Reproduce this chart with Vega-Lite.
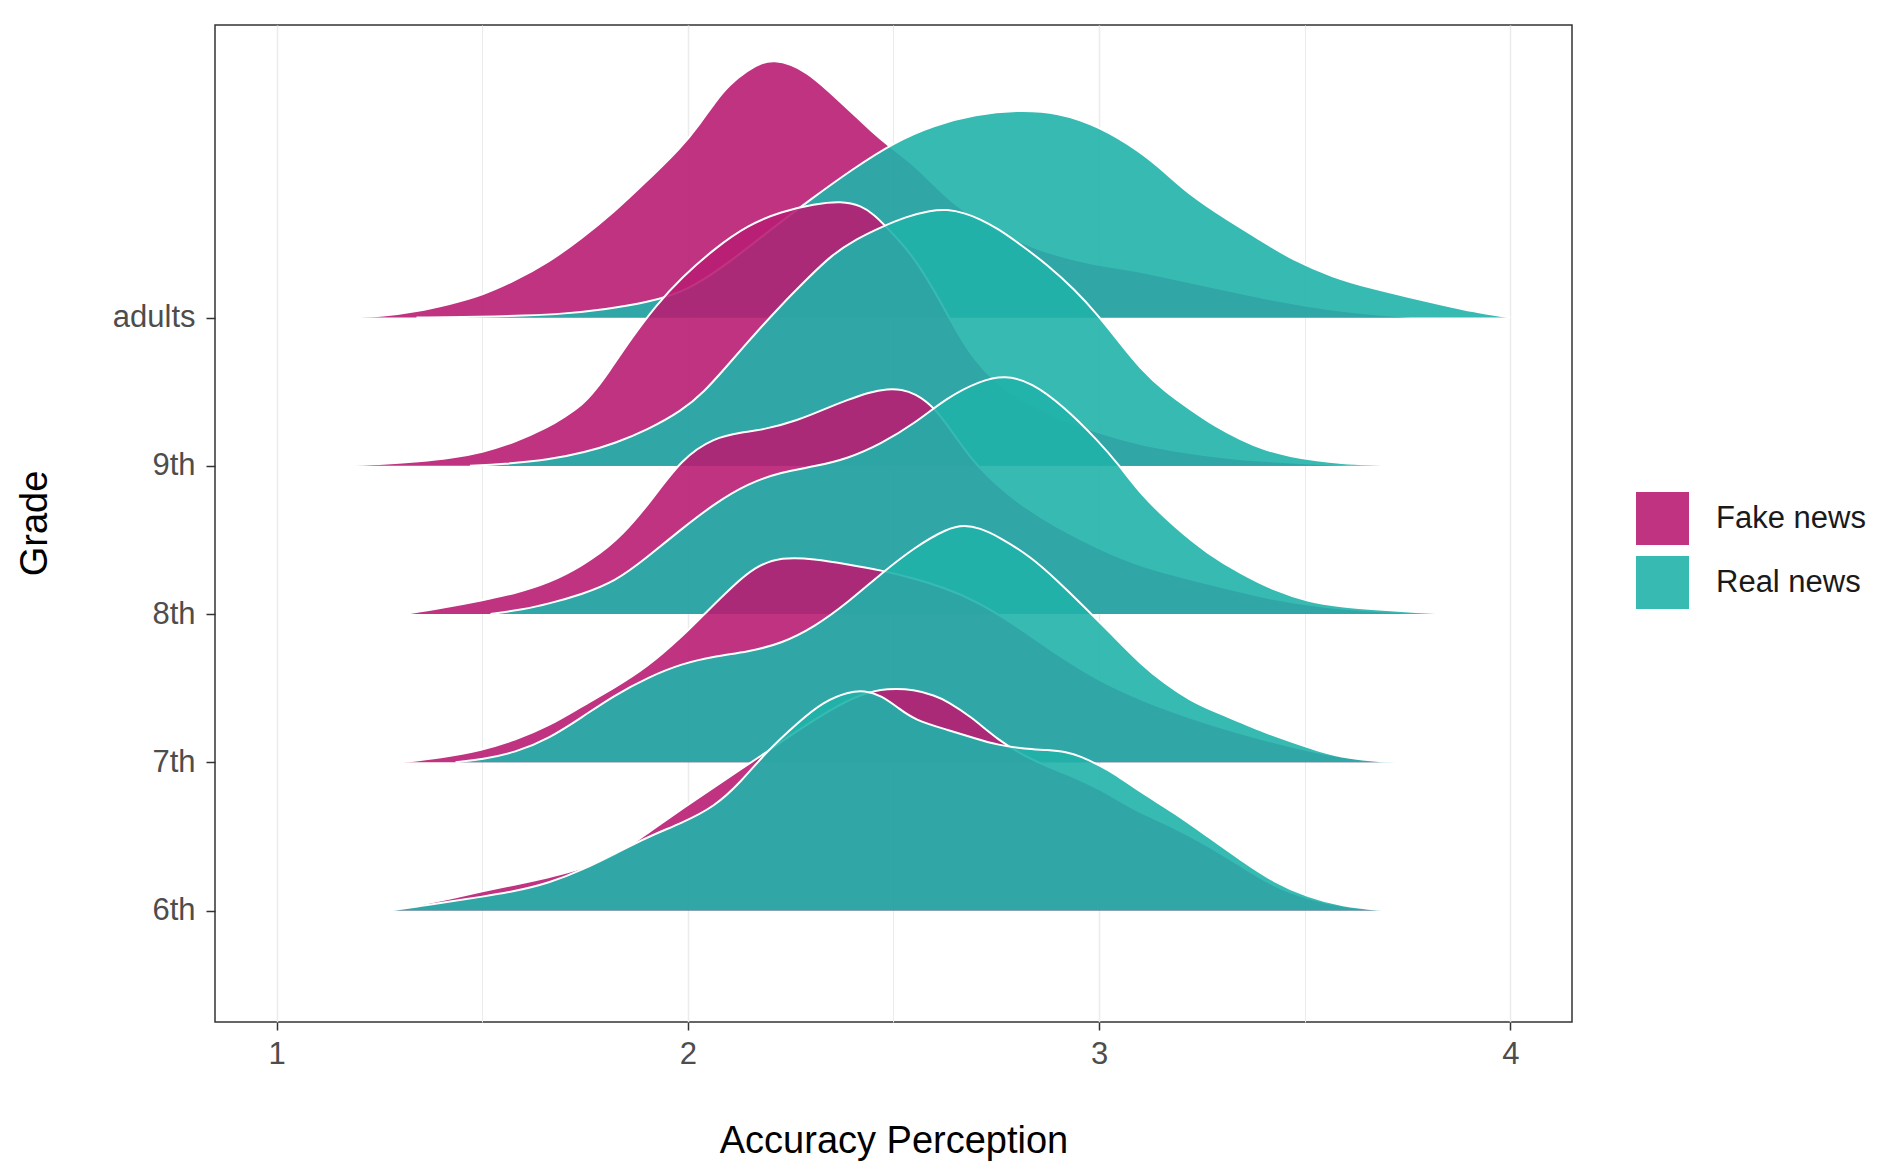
{
  "$schema": "https://vega.github.io/schema/vega-lite/v6.json",
  "width": 1357,
  "height": 997,
  "autosize": {"type": "none"},
  "padding": {"left": 215, "top": 25, "right": 311, "bottom": 145},
  "background": "white",
  "config": {
    "font": "Liberation Sans",
    "view": {"stroke": "#333333", "strokeWidth": 1.5},
    "axis": {"domain": false, "tickColor": "#333333", "tickWidth": 1.5, "labelColor": "#4D4D4D", "labelFontSize": 31, "titleFontSize": 38, "titleFontWeight": "normal", "titleColor": "#000000", "labelFont": "Liberation Sans", "titleFont": "Liberation Sans"}
  },
  "datasets": {
    "adults_fake": [
      {"grade":"adults","type":"Fake news","x":1.18,"ridge":5},{"grade":"adults","type":"Fake news","x":1.26,"ridge":5.01},{"grade":"adults","type":"Fake news","x":1.34,"ridge":5.04},{"grade":"adults","type":"Fake news","x":1.42,"ridge":5.09},{"grade":"adults","type":"Fake news","x":1.5,"ridge":5.15},{"grade":"adults","type":"Fake news","x":1.58,"ridge":5.25},{"grade":"adults","type":"Fake news","x":1.66,"ridge":5.37},{"grade":"adults","type":"Fake news","x":1.74,"ridge":5.53},{"grade":"adults","type":"Fake news","x":1.82,"ridge":5.71},{"grade":"adults","type":"Fake news","x":1.9,"ridge":5.92},{"grade":"adults","type":"Fake news","x":1.985,"ridge":6.15},{"grade":"adults","type":"Fake news","x":2.03,"ridge":6.31},{"grade":"adults","type":"Fake news","x":2.065,"ridge":6.45},{"grade":"adults","type":"Fake news","x":2.1,"ridge":6.57},{"grade":"adults","type":"Fake news","x":2.146,"ridge":6.67},{"grade":"adults","type":"Fake news","x":2.18,"ridge":6.72},{"grade":"adults","type":"Fake news","x":2.21,"ridge":6.735},{"grade":"adults","type":"Fake news","x":2.25,"ridge":6.71},{"grade":"adults","type":"Fake news","x":2.29,"ridge":6.65},{"grade":"adults","type":"Fake news","x":2.325,"ridge":6.57},{"grade":"adults","type":"Fake news","x":2.365,"ridge":6.47},{"grade":"adults","type":"Fake news","x":2.405,"ridge":6.366},{"grade":"adults","type":"Fake news","x":2.445,"ridge":6.26},{"grade":"adults","type":"Fake news","x":2.487,"ridge":6.16},{"grade":"adults","type":"Fake news","x":2.55,"ridge":6.03},{"grade":"adults","type":"Fake news","x":2.6,"ridge":5.89},{"grade":"adults","type":"Fake news","x":2.65,"ridge":5.76},{"grade":"adults","type":"Fake news","x":2.7,"ridge":5.66},{"grade":"adults","type":"Fake news","x":2.8,"ridge":5.52},{"grade":"adults","type":"Fake news","x":2.86,"ridge":5.45},{"grade":"adults","type":"Fake news","x":2.95,"ridge":5.38},{"grade":"adults","type":"Fake news","x":3.03,"ridge":5.34},{"grade":"adults","type":"Fake news","x":3.1,"ridge":5.31},{"grade":"adults","type":"Fake news","x":3.2,"ridge":5.25},{"grade":"adults","type":"Fake news","x":3.3,"ridge":5.19},{"grade":"adults","type":"Fake news","x":3.4,"ridge":5.13},{"grade":"adults","type":"Fake news","x":3.5,"ridge":5.08},{"grade":"adults","type":"Fake news","x":3.6,"ridge":5.04},{"grade":"adults","type":"Fake news","x":3.7,"ridge":5.015},{"grade":"adults","type":"Fake news","x":3.78,"ridge":5}
    ],
    "adults_real": [
      {"grade":"adults","type":"Real news","x":1.34,"ridge":5},{"grade":"adults","type":"Real news","x":1.5,"ridge":5.005},{"grade":"adults","type":"Real news","x":1.6,"ridge":5.012},{"grade":"adults","type":"Real news","x":1.7,"ridge":5.025},{"grade":"adults","type":"Real news","x":1.8,"ridge":5.055},{"grade":"adults","type":"Real news","x":1.9,"ridge":5.1},{"grade":"adults","type":"Real news","x":2.0,"ridge":5.18},{"grade":"adults","type":"Real news","x":2.1,"ridge":5.37},{"grade":"adults","type":"Real news","x":2.2,"ridge":5.59},{"grade":"adults","type":"Real news","x":2.3,"ridge":5.8},{"grade":"adults","type":"Real news","x":2.4,"ridge":6.0},{"grade":"adults","type":"Real news","x":2.5,"ridge":6.18},{"grade":"adults","type":"Real news","x":2.6,"ridge":6.3},{"grade":"adults","type":"Real news","x":2.7,"ridge":6.37},{"grade":"adults","type":"Real news","x":2.8,"ridge":6.4},{"grade":"adults","type":"Real news","x":2.9,"ridge":6.385},{"grade":"adults","type":"Real news","x":3.0,"ridge":6.29},{"grade":"adults","type":"Real news","x":3.1,"ridge":6.12},{"grade":"adults","type":"Real news","x":3.16,"ridge":5.98},{"grade":"adults","type":"Real news","x":3.22,"ridge":5.83},{"grade":"adults","type":"Real news","x":3.3,"ridge":5.68},{"grade":"adults","type":"Real news","x":3.4,"ridge":5.51},{"grade":"adults","type":"Real news","x":3.47,"ridge":5.39},{"grade":"adults","type":"Real news","x":3.57,"ridge":5.27},{"grade":"adults","type":"Real news","x":3.66,"ridge":5.2},{"grade":"adults","type":"Real news","x":3.75,"ridge":5.14},{"grade":"adults","type":"Real news","x":3.83,"ridge":5.09},{"grade":"adults","type":"Real news","x":3.91,"ridge":5.04},{"grade":"adults","type":"Real news","x":4.0,"ridge":5}
    ],
    "g9_fake": [
      {"grade":"9th","type":"Fake news","x":1.15,"ridge":4},{"grade":"9th","type":"Fake news","x":1.25,"ridge":4.01},{"grade":"9th","type":"Fake news","x":1.35,"ridge":4.03},{"grade":"9th","type":"Fake news","x":1.42,"ridge":4.05},{"grade":"9th","type":"Fake news","x":1.5,"ridge":4.09},{"grade":"9th","type":"Fake news","x":1.58,"ridge":4.16},{"grade":"9th","type":"Fake news","x":1.66,"ridge":4.26},{"grade":"9th","type":"Fake news","x":1.7,"ridge":4.33},{"grade":"9th","type":"Fake news","x":1.743,"ridge":4.41},{"grade":"9th","type":"Fake news","x":1.775,"ridge":4.51},{"grade":"9th","type":"Fake news","x":1.807,"ridge":4.63},{"grade":"9th","type":"Fake news","x":1.86,"ridge":4.85},{"grade":"9th","type":"Fake news","x":1.922,"ridge":5.08},{"grade":"9th","type":"Fake news","x":1.985,"ridge":5.27},{"grade":"9th","type":"Fake news","x":2.065,"ridge":5.466},{"grade":"9th","type":"Fake news","x":2.146,"ridge":5.624},{"grade":"9th","type":"Fake news","x":2.227,"ridge":5.715},{"grade":"9th","type":"Fake news","x":2.308,"ridge":5.765},{"grade":"9th","type":"Fake news","x":2.373,"ridge":5.785},{"grade":"9th","type":"Fake news","x":2.422,"ridge":5.755},{"grade":"9th","type":"Fake news","x":2.454,"ridge":5.69},{"grade":"9th","type":"Fake news","x":2.478,"ridge":5.624},{"grade":"9th","type":"Fake news","x":2.52,"ridge":5.5},{"grade":"9th","type":"Fake news","x":2.55,"ridge":5.4},{"grade":"9th","type":"Fake news","x":2.6,"ridge":5.18},{"grade":"9th","type":"Fake news","x":2.65,"ridge":4.92},{"grade":"9th","type":"Fake news","x":2.7,"ridge":4.7},{"grade":"9th","type":"Fake news","x":2.75,"ridge":4.56},{"grade":"9th","type":"Fake news","x":2.8,"ridge":4.46},{"grade":"9th","type":"Fake news","x":2.9,"ridge":4.32},{"grade":"9th","type":"Fake news","x":3.0,"ridge":4.22},{"grade":"9th","type":"Fake news","x":3.1,"ridge":4.14},{"grade":"9th","type":"Fake news","x":3.25,"ridge":4.07},{"grade":"9th","type":"Fake news","x":3.4,"ridge":4.03},{"grade":"9th","type":"Fake news","x":3.55,"ridge":4.01},{"grade":"9th","type":"Fake news","x":3.67,"ridge":4}
    ],
    "g9_real": [
      {"grade":"9th","type":"Real news","x":1.47,"ridge":4},{"grade":"9th","type":"Real news","x":1.55,"ridge":4.01},{"grade":"9th","type":"Real news","x":1.662,"ridge":4.04},{"grade":"9th","type":"Real news","x":1.75,"ridge":4.09},{"grade":"9th","type":"Real news","x":1.824,"ridge":4.153},{"grade":"9th","type":"Real news","x":1.9,"ridge":4.24},{"grade":"9th","type":"Real news","x":1.985,"ridge":4.37},{"grade":"9th","type":"Real news","x":2.04,"ridge":4.5},{"grade":"9th","type":"Real news","x":2.09,"ridge":4.657},{"grade":"9th","type":"Real news","x":2.16,"ridge":4.88},{"grade":"9th","type":"Real news","x":2.227,"ridge":5.084},{"grade":"9th","type":"Real news","x":2.29,"ridge":5.26},{"grade":"9th","type":"Real news","x":2.349,"ridge":5.421},{"grade":"9th","type":"Real news","x":2.41,"ridge":5.53},{"grade":"9th","type":"Real news","x":2.47,"ridge":5.61},{"grade":"9th","type":"Real news","x":2.53,"ridge":5.68},{"grade":"9th","type":"Real news","x":2.591,"ridge":5.723},{"grade":"9th","type":"Real news","x":2.63,"ridge":5.73},{"grade":"9th","type":"Real news","x":2.673,"ridge":5.705},{"grade":"9th","type":"Real news","x":2.71,"ridge":5.665},{"grade":"9th","type":"Real news","x":2.754,"ridge":5.6},{"grade":"9th","type":"Real news","x":2.81,"ridge":5.49},{"grade":"9th","type":"Real news","x":2.875,"ridge":5.354},{"grade":"9th","type":"Real news","x":2.94,"ridge":5.19},{"grade":"9th","type":"Real news","x":2.997,"ridge":5.017},{"grade":"9th","type":"Real news","x":3.05,"ridge":4.83},{"grade":"9th","type":"Real news","x":3.1,"ridge":4.657},{"grade":"9th","type":"Real news","x":3.16,"ridge":4.5},{"grade":"9th","type":"Real news","x":3.223,"ridge":4.378},{"grade":"9th","type":"Real news","x":3.28,"ridge":4.27},{"grade":"9th","type":"Real news","x":3.345,"ridge":4.175},{"grade":"9th","type":"Real news","x":3.4,"ridge":4.11},{"grade":"9th","type":"Real news","x":3.466,"ridge":4.063},{"grade":"9th","type":"Real news","x":3.53,"ridge":4.035},{"grade":"9th","type":"Real news","x":3.588,"ridge":4.018},{"grade":"9th","type":"Real news","x":3.66,"ridge":4.007},{"grade":"9th","type":"Real news","x":3.725,"ridge":4}
    ],
    "g8_fake": [
      {"grade":"8th","type":"Fake news","x":1.31,"ridge":3},{"grade":"8th","type":"Fake news","x":1.4,"ridge":3.04},{"grade":"8th","type":"Fake news","x":1.5,"ridge":3.092},{"grade":"8th","type":"Fake news","x":1.58,"ridge":3.14},{"grade":"8th","type":"Fake news","x":1.662,"ridge":3.21},{"grade":"8th","type":"Fake news","x":1.74,"ridge":3.32},{"grade":"8th","type":"Fake news","x":1.824,"ridge":3.48},{"grade":"8th","type":"Fake news","x":1.905,"ridge":3.74},{"grade":"8th","type":"Fake news","x":1.985,"ridge":4.05},{"grade":"8th","type":"Fake news","x":2.065,"ridge":4.19},{"grade":"8th","type":"Fake news","x":2.13,"ridge":4.225},{"grade":"8th","type":"Fake news","x":2.187,"ridge":4.245},{"grade":"8th","type":"Fake news","x":2.268,"ridge":4.307},{"grade":"8th","type":"Fake news","x":2.33,"ridge":4.38},{"grade":"8th","type":"Fake news","x":2.389,"ridge":4.445},{"grade":"8th","type":"Fake news","x":2.44,"ridge":4.495},{"grade":"8th","type":"Fake news","x":2.486,"ridge":4.52},{"grade":"8th","type":"Fake news","x":2.52,"ridge":4.515},{"grade":"8th","type":"Fake news","x":2.551,"ridge":4.49},{"grade":"8th","type":"Fake news","x":2.6,"ridge":4.396},{"grade":"8th","type":"Fake news","x":2.65,"ridge":4.2},{"grade":"8th","type":"Fake news","x":2.7,"ridge":4.0},{"grade":"8th","type":"Fake news","x":2.8,"ridge":3.75},{"grade":"8th","type":"Fake news","x":2.9,"ridge":3.58},{"grade":"8th","type":"Fake news","x":3.0,"ridge":3.44},{"grade":"8th","type":"Fake news","x":3.1,"ridge":3.32},{"grade":"8th","type":"Fake news","x":3.264,"ridge":3.205},{"grade":"8th","type":"Fake news","x":3.426,"ridge":3.092},{"grade":"8th","type":"Fake news","x":3.588,"ridge":3.03},{"grade":"8th","type":"Fake news","x":3.75,"ridge":3.008},{"grade":"8th","type":"Fake news","x":3.83,"ridge":3}
    ],
    "g8_real": [
      {"grade":"8th","type":"Real news","x":1.52,"ridge":3},{"grade":"8th","type":"Real news","x":1.6,"ridge":3.03},{"grade":"8th","type":"Real news","x":1.662,"ridge":3.07},{"grade":"8th","type":"Real news","x":1.74,"ridge":3.13},{"grade":"8th","type":"Real news","x":1.824,"ridge":3.22},{"grade":"8th","type":"Real news","x":1.9,"ridge":3.38},{"grade":"8th","type":"Real news","x":1.985,"ridge":3.575},{"grade":"8th","type":"Real news","x":2.065,"ridge":3.745},{"grade":"8th","type":"Real news","x":2.146,"ridge":3.88},{"grade":"8th","type":"Real news","x":2.227,"ridge":3.958},{"grade":"8th","type":"Real news","x":2.308,"ridge":3.995},{"grade":"8th","type":"Real news","x":2.389,"ridge":4.048},{"grade":"8th","type":"Real news","x":2.47,"ridge":4.149},{"grade":"8th","type":"Real news","x":2.551,"ridge":4.284},{"grade":"8th","type":"Real news","x":2.632,"ridge":4.464},{"grade":"8th","type":"Real news","x":2.713,"ridge":4.575},{"grade":"8th","type":"Real news","x":2.77,"ridge":4.61},{"grade":"8th","type":"Real news","x":2.835,"ridge":4.565},{"grade":"8th","type":"Real news","x":2.916,"ridge":4.396},{"grade":"8th","type":"Real news","x":2.997,"ridge":4.17},{"grade":"8th","type":"Real news","x":3.05,"ridge":4.0},{"grade":"8th","type":"Real news","x":3.1,"ridge":3.812},{"grade":"8th","type":"Real news","x":3.183,"ridge":3.587},{"grade":"8th","type":"Real news","x":3.264,"ridge":3.407},{"grade":"8th","type":"Real news","x":3.345,"ridge":3.272},{"grade":"8th","type":"Real news","x":3.426,"ridge":3.16},{"grade":"8th","type":"Real news","x":3.507,"ridge":3.085},{"grade":"8th","type":"Real news","x":3.59,"ridge":3.05},{"grade":"8th","type":"Real news","x":3.668,"ridge":3.033},{"grade":"8th","type":"Real news","x":3.77,"ridge":3.013},{"grade":"8th","type":"Real news","x":3.87,"ridge":3}
    ],
    "g7_fake": [
      {"grade":"7th","type":"Fake news","x":1.3,"ridge":2},{"grade":"7th","type":"Fake news","x":1.4,"ridge":2.03},{"grade":"7th","type":"Fake news","x":1.5,"ridge":2.081},{"grade":"7th","type":"Fake news","x":1.58,"ridge":2.15},{"grade":"7th","type":"Fake news","x":1.662,"ridge":2.245},{"grade":"7th","type":"Fake news","x":1.743,"ridge":2.38},{"grade":"7th","type":"Fake news","x":1.82,"ridge":2.5},{"grade":"7th","type":"Fake news","x":1.9,"ridge":2.64},{"grade":"7th","type":"Fake news","x":1.985,"ridge":2.845},{"grade":"7th","type":"Fake news","x":2.049,"ridge":3.025},{"grade":"7th","type":"Fake news","x":2.106,"ridge":3.18},{"grade":"7th","type":"Fake news","x":2.163,"ridge":3.32},{"grade":"7th","type":"Fake news","x":2.227,"ridge":3.385},{"grade":"7th","type":"Fake news","x":2.308,"ridge":3.372},{"grade":"7th","type":"Fake news","x":2.389,"ridge":3.335},{"grade":"7th","type":"Fake news","x":2.47,"ridge":3.295},{"grade":"7th","type":"Fake news","x":2.55,"ridge":3.24},{"grade":"7th","type":"Fake news","x":2.62,"ridge":3.18},{"grade":"7th","type":"Fake news","x":2.7,"ridge":3.09},{"grade":"7th","type":"Fake news","x":2.8,"ridge":2.92},{"grade":"7th","type":"Fake news","x":2.9,"ridge":2.72},{"grade":"7th","type":"Fake news","x":3.0,"ridge":2.55},{"grade":"7th","type":"Fake news","x":3.1,"ridge":2.42},{"grade":"7th","type":"Fake news","x":3.25,"ridge":2.27},{"grade":"7th","type":"Fake news","x":3.4,"ridge":2.15},{"grade":"7th","type":"Fake news","x":3.55,"ridge":2.05},{"grade":"7th","type":"Fake news","x":3.65,"ridge":2.015},{"grade":"7th","type":"Fake news","x":3.7,"ridge":2}
    ],
    "g7_real": [
      {"grade":"7th","type":"Real news","x":1.435,"ridge":2},{"grade":"7th","type":"Real news","x":1.5,"ridge":2.02},{"grade":"7th","type":"Real news","x":1.58,"ridge":2.065},{"grade":"7th","type":"Real news","x":1.662,"ridge":2.16},{"grade":"7th","type":"Real news","x":1.743,"ridge":2.305},{"grade":"7th","type":"Real news","x":1.82,"ridge":2.45},{"grade":"7th","type":"Real news","x":1.905,"ridge":2.575},{"grade":"7th","type":"Real news","x":1.985,"ridge":2.665},{"grade":"7th","type":"Real news","x":2.065,"ridge":2.715},{"grade":"7th","type":"Real news","x":2.146,"ridge":2.745},{"grade":"7th","type":"Real news","x":2.227,"ridge":2.8},{"grade":"7th","type":"Real news","x":2.308,"ridge":2.913},{"grade":"7th","type":"Real news","x":2.39,"ridge":3.08},{"grade":"7th","type":"Real news","x":2.47,"ridge":3.273},{"grade":"7th","type":"Real news","x":2.551,"ridge":3.45},{"grade":"7th","type":"Real news","x":2.632,"ridge":3.58},{"grade":"7th","type":"Real news","x":2.673,"ridge":3.6},{"grade":"7th","type":"Real news","x":2.71,"ridge":3.58},{"grade":"7th","type":"Real news","x":2.754,"ridge":3.525},{"grade":"7th","type":"Real news","x":2.835,"ridge":3.385},{"grade":"7th","type":"Real news","x":2.9,"ridge":3.22},{"grade":"7th","type":"Real news","x":2.956,"ridge":3.07},{"grade":"7th","type":"Real news","x":3.037,"ridge":2.845},{"grade":"7th","type":"Real news","x":3.1,"ridge":2.666},{"grade":"7th","type":"Real news","x":3.16,"ridge":2.53},{"grade":"7th","type":"Real news","x":3.22,"ridge":2.42},{"grade":"7th","type":"Real news","x":3.283,"ridge":2.34},{"grade":"7th","type":"Real news","x":3.345,"ridge":2.27},{"grade":"7th","type":"Real news","x":3.4,"ridge":2.205},{"grade":"7th","type":"Real news","x":3.466,"ridge":2.14},{"grade":"7th","type":"Real news","x":3.53,"ridge":2.08},{"grade":"7th","type":"Real news","x":3.588,"ridge":2.036},{"grade":"7th","type":"Real news","x":3.66,"ridge":2.012},{"grade":"7th","type":"Real news","x":3.734,"ridge":2}
    ],
    "g6_fake": [
      {"grade":"6th","type":"Fake news","x":1.28,"ridge":1},{"grade":"6th","type":"Fake news","x":1.35,"ridge":1.04},{"grade":"6th","type":"Fake news","x":1.42,"ridge":1.08},{"grade":"6th","type":"Fake news","x":1.5,"ridge":1.13},{"grade":"6th","type":"Fake news","x":1.58,"ridge":1.175},{"grade":"6th","type":"Fake news","x":1.662,"ridge":1.225},{"grade":"6th","type":"Fake news","x":1.72,"ridge":1.265},{"grade":"6th","type":"Fake news","x":1.8,"ridge":1.34},{"grade":"6th","type":"Fake news","x":1.85,"ridge":1.42},{"grade":"6th","type":"Fake news","x":1.905,"ridge":1.53},{"grade":"6th","type":"Fake news","x":1.985,"ridge":1.685},{"grade":"6th","type":"Fake news","x":2.065,"ridge":1.835},{"grade":"6th","type":"Fake news","x":2.187,"ridge":2.06},{"grade":"6th","type":"Fake news","x":2.27,"ridge":2.22},{"grade":"6th","type":"Fake news","x":2.35,"ridge":2.36},{"grade":"6th","type":"Fake news","x":2.42,"ridge":2.46},{"grade":"6th","type":"Fake news","x":2.486,"ridge":2.5},{"grade":"6th","type":"Fake news","x":2.551,"ridge":2.49},{"grade":"6th","type":"Fake news","x":2.6,"ridge":2.45},{"grade":"6th","type":"Fake news","x":2.632,"ridge":2.41},{"grade":"6th","type":"Fake news","x":2.689,"ridge":2.307},{"grade":"6th","type":"Fake news","x":2.754,"ridge":2.15},{"grade":"6th","type":"Fake news","x":2.82,"ridge":2.04},{"grade":"6th","type":"Fake news","x":2.875,"ridge":1.97},{"grade":"6th","type":"Fake news","x":2.94,"ridge":1.9},{"grade":"6th","type":"Fake news","x":3.0,"ridge":1.82},{"grade":"6th","type":"Fake news","x":3.05,"ridge":1.74},{"grade":"6th","type":"Fake news","x":3.1,"ridge":1.66},{"grade":"6th","type":"Fake news","x":3.183,"ridge":1.56},{"grade":"6th","type":"Fake news","x":3.264,"ridge":1.44},{"grade":"6th","type":"Fake news","x":3.345,"ridge":1.3},{"grade":"6th","type":"Fake news","x":3.426,"ridge":1.16},{"grade":"6th","type":"Fake news","x":3.507,"ridge":1.08},{"grade":"6th","type":"Fake news","x":3.59,"ridge":1.025},{"grade":"6th","type":"Fake news","x":3.7,"ridge":1}
    ],
    "g6_real": [
      {"grade":"6th","type":"Real news","x":1.273,"ridge":1},{"grade":"6th","type":"Real news","x":1.35,"ridge":1.03},{"grade":"6th","type":"Real news","x":1.42,"ridge":1.06},{"grade":"6th","type":"Real news","x":1.5,"ridge":1.093},{"grade":"6th","type":"Real news","x":1.58,"ridge":1.13},{"grade":"6th","type":"Real news","x":1.662,"ridge":1.185},{"grade":"6th","type":"Real news","x":1.743,"ridge":1.273},{"grade":"6th","type":"Real news","x":1.824,"ridge":1.386},{"grade":"6th","type":"Real news","x":1.905,"ridge":1.5},{"grade":"6th","type":"Real news","x":1.985,"ridge":1.59},{"grade":"6th","type":"Real news","x":2.065,"ridge":1.7},{"grade":"6th","type":"Real news","x":2.13,"ridge":1.87},{"grade":"6th","type":"Real news","x":2.187,"ridge":2.06},{"grade":"6th","type":"Real news","x":2.268,"ridge":2.27},{"grade":"6th","type":"Real news","x":2.33,"ridge":2.41},{"grade":"6th","type":"Real news","x":2.39,"ridge":2.475},{"grade":"6th","type":"Real news","x":2.43,"ridge":2.485},{"grade":"6th","type":"Real news","x":2.47,"ridge":2.45},{"grade":"6th","type":"Real news","x":2.51,"ridge":2.37},{"grade":"6th","type":"Real news","x":2.551,"ridge":2.285},{"grade":"6th","type":"Real news","x":2.632,"ridge":2.218},{"grade":"6th","type":"Real news","x":2.7,"ridge":2.16},{"grade":"6th","type":"Real news","x":2.754,"ridge":2.116},{"grade":"6th","type":"Real news","x":2.82,"ridge":2.09},{"grade":"6th","type":"Real news","x":2.875,"ridge":2.083},{"grade":"6th","type":"Real news","x":2.92,"ridge":2.07},{"grade":"6th","type":"Real news","x":2.956,"ridge":2.04},{"grade":"6th","type":"Real news","x":3.0,"ridge":1.98},{"grade":"6th","type":"Real news","x":3.037,"ridge":1.925},{"grade":"6th","type":"Real news","x":3.1,"ridge":1.8},{"grade":"6th","type":"Real news","x":3.183,"ridge":1.66},{"grade":"6th","type":"Real news","x":3.264,"ridge":1.5},{"grade":"6th","type":"Real news","x":3.345,"ridge":1.34},{"grade":"6th","type":"Real news","x":3.426,"ridge":1.19},{"grade":"6th","type":"Real news","x":3.507,"ridge":1.093},{"grade":"6th","type":"Real news","x":3.588,"ridge":1.03},{"grade":"6th","type":"Real news","x":3.7,"ridge":1}
    ]
  },
  "encoding": {
    "x": {
      "field": "x", "type": "quantitative",
      "scale": {"domain": [0.85, 4.15], "nice": false, "zero": false},
      "axis": {
        "title": "Accuracy Perception",
        "values": [1, 1.5, 2, 2.5, 3, 3.5, 4],
        "labelExpr": "datum.value % 1 === 0 ? format(datum.value, 'd') : ''",
        "tickOpacity": {"condition": {"test": "datum.value % 1 === 0", "value": 1}, "value": 0},
        "tickSize": 8,
        "labelPadding": 9,
        "grid": true,
        "gridColor": "#EBEBEB",
        "gridWidth": {"condition": {"test": "datum.value % 1 === 0", "value": 1.5}, "value": 1},
        "titleY": 119,
        "titleBaseline": "middle"
      }
    },
    "y": {
      "field": "ridge", "type": "quantitative",
      "scale": {"domain": [0.248, 6.973], "nice": false, "zero": false},
      "axis": {
        "title": "Grade",
        "values": [1, 2, 3, 4, 5],
        "labelExpr": "datum.value == 5 ? 'adults' : (datum.value + 5) + 'th'",
        "grid": false,
        "tickSize": 9,
        "labelPadding": 11,
        "titleAngle": -90,
        "titleX": -180,
        "titleY": 498,
        "titleAlign": "center",
        "titleBaseline": "middle"
      }
    }
  },
  "layer": [
    {"data": {"name": "adults_fake"}, "mark": {"type": "area", "interpolate": "basis", "fillOpacity": 0.9}, "encoding": {"y2": {"datum": 5}, "color": {"field": "type", "type": "nominal", "title": null, "scale": {"domain": ["Fake news", "Real news"], "range": ["#B81D72", "#20B2AA"]}, "legend": {"orient": "none", "legendX": 1421, "legendY": 467, "symbolType": "square", "symbolSize": 2809, "symbolStrokeWidth": 0, "symbolOpacity": 0.9, "labelFontSize": 31, "labelColor": "#1A1A1A", "labelOffset": 27, "rowPadding": 11, "padding": 0}}}},
    {"data": {"name": "adults_fake"}, "mark": {"type": "line", "interpolate": "basis", "color": "white", "strokeWidth": 2}, "encoding": {}},
    {"data": {"name": "adults_real"}, "mark": {"type": "area", "interpolate": "basis", "fillOpacity": 0.9}, "encoding": {"y2": {"datum": 5}, "color": {"field": "type", "type": "nominal", "title": null, "scale": {"domain": ["Fake news", "Real news"], "range": ["#B81D72", "#20B2AA"]}, "legend": {"orient": "none", "legendX": 1421, "legendY": 467, "symbolType": "square", "symbolSize": 2809, "symbolStrokeWidth": 0, "symbolOpacity": 0.9, "labelFontSize": 31, "labelColor": "#1A1A1A", "labelOffset": 27, "rowPadding": 11, "padding": 0}}}},
    {"data": {"name": "adults_real"}, "mark": {"type": "line", "interpolate": "basis", "color": "white", "strokeWidth": 2}, "encoding": {}},
    {"data": {"name": "g9_fake"}, "mark": {"type": "area", "interpolate": "basis", "fillOpacity": 0.9}, "encoding": {"y2": {"datum": 4}, "color": {"field": "type", "type": "nominal", "title": null, "scale": {"domain": ["Fake news", "Real news"], "range": ["#B81D72", "#20B2AA"]}, "legend": {"orient": "none", "legendX": 1421, "legendY": 467, "symbolType": "square", "symbolSize": 2809, "symbolStrokeWidth": 0, "symbolOpacity": 0.9, "labelFontSize": 31, "labelColor": "#1A1A1A", "labelOffset": 27, "rowPadding": 11, "padding": 0}}}},
    {"data": {"name": "g9_fake"}, "mark": {"type": "line", "interpolate": "basis", "color": "white", "strokeWidth": 2}, "encoding": {}},
    {"data": {"name": "g9_real"}, "mark": {"type": "area", "interpolate": "basis", "fillOpacity": 0.9}, "encoding": {"y2": {"datum": 4}, "color": {"field": "type", "type": "nominal", "title": null, "scale": {"domain": ["Fake news", "Real news"], "range": ["#B81D72", "#20B2AA"]}, "legend": {"orient": "none", "legendX": 1421, "legendY": 467, "symbolType": "square", "symbolSize": 2809, "symbolStrokeWidth": 0, "symbolOpacity": 0.9, "labelFontSize": 31, "labelColor": "#1A1A1A", "labelOffset": 27, "rowPadding": 11, "padding": 0}}}},
    {"data": {"name": "g9_real"}, "mark": {"type": "line", "interpolate": "basis", "color": "white", "strokeWidth": 2}, "encoding": {}},
    {"data": {"name": "g8_fake"}, "mark": {"type": "area", "interpolate": "basis", "fillOpacity": 0.9}, "encoding": {"y2": {"datum": 3}, "color": {"field": "type", "type": "nominal", "title": null, "scale": {"domain": ["Fake news", "Real news"], "range": ["#B81D72", "#20B2AA"]}, "legend": {"orient": "none", "legendX": 1421, "legendY": 467, "symbolType": "square", "symbolSize": 2809, "symbolStrokeWidth": 0, "symbolOpacity": 0.9, "labelFontSize": 31, "labelColor": "#1A1A1A", "labelOffset": 27, "rowPadding": 11, "padding": 0}}}},
    {"data": {"name": "g8_fake"}, "mark": {"type": "line", "interpolate": "basis", "color": "white", "strokeWidth": 2}, "encoding": {}},
    {"data": {"name": "g8_real"}, "mark": {"type": "area", "interpolate": "basis", "fillOpacity": 0.9}, "encoding": {"y2": {"datum": 3}, "color": {"field": "type", "type": "nominal", "title": null, "scale": {"domain": ["Fake news", "Real news"], "range": ["#B81D72", "#20B2AA"]}, "legend": {"orient": "none", "legendX": 1421, "legendY": 467, "symbolType": "square", "symbolSize": 2809, "symbolStrokeWidth": 0, "symbolOpacity": 0.9, "labelFontSize": 31, "labelColor": "#1A1A1A", "labelOffset": 27, "rowPadding": 11, "padding": 0}}}},
    {"data": {"name": "g8_real"}, "mark": {"type": "line", "interpolate": "basis", "color": "white", "strokeWidth": 2}, "encoding": {}},
    {"data": {"name": "g7_fake"}, "mark": {"type": "area", "interpolate": "basis", "fillOpacity": 0.9}, "encoding": {"y2": {"datum": 2}, "color": {"field": "type", "type": "nominal", "title": null, "scale": {"domain": ["Fake news", "Real news"], "range": ["#B81D72", "#20B2AA"]}, "legend": {"orient": "none", "legendX": 1421, "legendY": 467, "symbolType": "square", "symbolSize": 2809, "symbolStrokeWidth": 0, "symbolOpacity": 0.9, "labelFontSize": 31, "labelColor": "#1A1A1A", "labelOffset": 27, "rowPadding": 11, "padding": 0}}}},
    {"data": {"name": "g7_fake"}, "mark": {"type": "line", "interpolate": "basis", "color": "white", "strokeWidth": 2}, "encoding": {}},
    {"data": {"name": "g7_real"}, "mark": {"type": "area", "interpolate": "basis", "fillOpacity": 0.9}, "encoding": {"y2": {"datum": 2}, "color": {"field": "type", "type": "nominal", "title": null, "scale": {"domain": ["Fake news", "Real news"], "range": ["#B81D72", "#20B2AA"]}, "legend": {"orient": "none", "legendX": 1421, "legendY": 467, "symbolType": "square", "symbolSize": 2809, "symbolStrokeWidth": 0, "symbolOpacity": 0.9, "labelFontSize": 31, "labelColor": "#1A1A1A", "labelOffset": 27, "rowPadding": 11, "padding": 0}}}},
    {"data": {"name": "g7_real"}, "mark": {"type": "line", "interpolate": "basis", "color": "white", "strokeWidth": 2}, "encoding": {}},
    {"data": {"name": "g6_fake"}, "mark": {"type": "area", "interpolate": "basis", "fillOpacity": 0.9}, "encoding": {"y2": {"datum": 1}, "color": {"field": "type", "type": "nominal", "title": null, "scale": {"domain": ["Fake news", "Real news"], "range": ["#B81D72", "#20B2AA"]}, "legend": {"orient": "none", "legendX": 1421, "legendY": 467, "symbolType": "square", "symbolSize": 2809, "symbolStrokeWidth": 0, "symbolOpacity": 0.9, "labelFontSize": 31, "labelColor": "#1A1A1A", "labelOffset": 27, "rowPadding": 11, "padding": 0}}}},
    {"data": {"name": "g6_fake"}, "mark": {"type": "line", "interpolate": "basis", "color": "white", "strokeWidth": 2}, "encoding": {}},
    {"data": {"name": "g6_real"}, "mark": {"type": "area", "interpolate": "basis", "fillOpacity": 0.9}, "encoding": {"y2": {"datum": 1}, "color": {"field": "type", "type": "nominal", "title": null, "scale": {"domain": ["Fake news", "Real news"], "range": ["#B81D72", "#20B2AA"]}, "legend": {"orient": "none", "legendX": 1421, "legendY": 467, "symbolType": "square", "symbolSize": 2809, "symbolStrokeWidth": 0, "symbolOpacity": 0.9, "labelFontSize": 31, "labelColor": "#1A1A1A", "labelOffset": 27, "rowPadding": 11, "padding": 0}}}},
    {"data": {"name": "g6_real"}, "mark": {"type": "line", "interpolate": "basis", "color": "white", "strokeWidth": 2}, "encoding": {}}
  ]
}
